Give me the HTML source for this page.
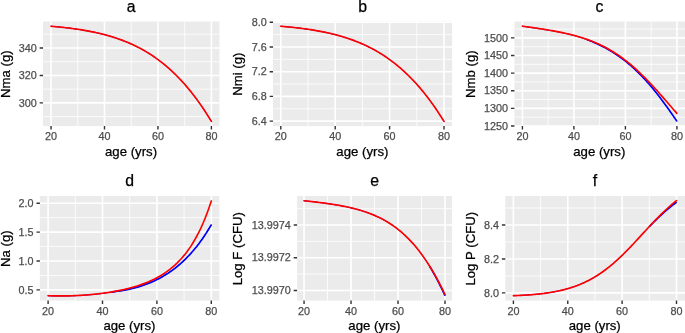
<!DOCTYPE html>
<html><head><meta charset="utf-8"><style>
html,body{margin:0;padding:0;background:#fff;}
body{width:685px;height:333px;overflow:hidden;}
svg{display:block;font-family:"Liberation Sans", sans-serif;will-change:transform;}
text{stroke:currentColor;stroke-width:0.25px;}
</style></head><body>
<svg width="685" height="333" viewBox="0 0 685 333">
<defs><clipPath id="c0"><rect x="43.05" y="21.5" width="176.35" height="104.6"/></clipPath><clipPath id="c1"><rect x="273.05" y="21.5" width="179.05" height="104.6"/></clipPath><clipPath id="c2"><rect x="514.4" y="21.5" width="170.6" height="104.6"/></clipPath><clipPath id="c3"><rect x="39.9" y="196" width="179.45" height="104.6"/></clipPath><clipPath id="c4"><rect x="297.1" y="196" width="154.95" height="104.6"/></clipPath><clipPath id="c5"><rect x="505.3" y="196" width="179.7" height="104.6"/></clipPath></defs>
<rect width="685" height="333" fill="#fff"/>
<rect x="43.05" y="21.5" width="176.35" height="104.6" fill="#EBEBEB"/>
<path d="M43.05 34.21H219.4M43.05 61.69H219.4M43.05 89.17H219.4M43.05 116.64H219.4M77.78 21.5V126.1M131.23 21.5V126.1M184.68 21.5V126.1" stroke="#FFFFFF" stroke-width="0.8" fill="none"/>
<path d="M43.05 47.95H219.4M43.05 75.43H219.4M43.05 102.9H219.4M51.05 21.5V126.1M104.5 21.5V126.1M157.95 21.5V126.1M211.4 21.5V126.1" stroke="#FFFFFF" stroke-width="1.6" fill="none"/>
<path d="M51.05 26.26 L52.39 26.37 L53.72 26.49 L55.06 26.61 L56.39 26.73 L57.73 26.86 L59.07 26.99 L60.4 27.13 L61.74 27.26 L63.08 27.41 L64.41 27.55 L65.75 27.7 L67.09 27.86 L68.42 28.02 L69.76 28.18 L71.09 28.35 L72.43 28.53 L73.77 28.71 L75.1 28.89 L76.44 29.08 L77.78 29.28 L79.11 29.48 L80.45 29.69 L81.78 29.9 L83.12 30.12 L84.46 30.35 L85.79 30.58 L87.13 30.82 L88.47 31.07 L89.8 31.32 L91.14 31.58 L92.47 31.85 L93.81 32.13 L95.15 32.41 L96.48 32.7 L97.82 33.01 L99.16 33.32 L100.49 33.63 L101.83 33.96 L103.16 34.3 L104.5 34.64 L105.84 35 L107.17 35.37 L108.51 35.74 L109.84 36.13 L111.18 36.53 L112.52 36.94 L113.85 37.36 L115.19 37.79 L116.53 38.23 L117.86 38.69 L119.2 39.16 L120.54 39.64 L121.87 40.13 L123.21 40.64 L124.54 41.16 L125.88 41.69 L127.22 42.24 L128.55 42.8 L129.89 43.38 L131.23 43.97 L132.56 44.58 L133.9 45.21 L135.23 45.85 L136.57 46.51 L137.91 47.18 L139.24 47.87 L140.58 48.58 L141.92 49.31 L143.25 50.05 L144.59 50.82 L145.92 51.6 L147.26 52.4 L148.6 53.22 L149.93 54.06 L151.27 54.93 L152.61 55.81 L153.94 56.71 L155.28 57.64 L156.61 58.59 L157.95 59.56 L159.29 60.55 L160.62 61.57 L161.96 62.61 L163.3 63.67 L164.63 64.76 L165.97 65.87 L167.3 67.01 L168.64 68.18 L169.98 69.37 L171.31 70.58 L172.65 71.83 L173.99 73.1 L175.32 74.4 L176.66 75.72 L177.99 77.08 L179.33 78.46 L180.67 79.88 L182 81.32 L183.34 82.8 L184.68 84.3 L186.01 85.84 L187.35 87.4 L188.68 89 L190.02 90.63 L191.36 92.3 L192.69 94 L194.03 95.73 L195.37 97.49 L196.7 99.29 L198.04 101.12 L199.37 102.99 L200.71 104.89 L202.05 106.83 L203.38 108.81 L204.72 110.82 L206.06 112.87 L207.39 114.96 L208.73 117.08 L210.06 119.24 L211.4 121.44" stroke="#0000FF" stroke-width="1.0" fill="none" stroke-linejoin="round" stroke-linecap="round" clip-path="url(#c0)"/>
<path d="M51.05 26.26 L52.39 26.37 L53.72 26.49 L55.06 26.61 L56.39 26.73 L57.73 26.86 L59.07 26.99 L60.4 27.13 L61.74 27.26 L63.08 27.41 L64.41 27.55 L65.75 27.7 L67.09 27.86 L68.42 28.02 L69.76 28.18 L71.09 28.35 L72.43 28.53 L73.77 28.71 L75.1 28.89 L76.44 29.08 L77.78 29.28 L79.11 29.48 L80.45 29.69 L81.78 29.9 L83.12 30.12 L84.46 30.35 L85.79 30.58 L87.13 30.82 L88.47 31.07 L89.8 31.32 L91.14 31.58 L92.47 31.85 L93.81 32.13 L95.15 32.41 L96.48 32.7 L97.82 33.01 L99.16 33.32 L100.49 33.63 L101.83 33.96 L103.16 34.3 L104.5 34.64 L105.84 35 L107.17 35.37 L108.51 35.74 L109.84 36.13 L111.18 36.53 L112.52 36.94 L113.85 37.36 L115.19 37.79 L116.53 38.23 L117.86 38.69 L119.2 39.16 L120.54 39.64 L121.87 40.13 L123.21 40.64 L124.54 41.16 L125.88 41.69 L127.22 42.24 L128.55 42.8 L129.89 43.38 L131.23 43.97 L132.56 44.58 L133.9 45.21 L135.23 45.85 L136.57 46.51 L137.91 47.18 L139.24 47.87 L140.58 48.58 L141.92 49.31 L143.25 50.05 L144.59 50.82 L145.92 51.6 L147.26 52.4 L148.6 53.22 L149.93 54.06 L151.27 54.93 L152.61 55.81 L153.94 56.71 L155.28 57.64 L156.61 58.59 L157.95 59.56 L159.29 60.55 L160.62 61.57 L161.96 62.61 L163.3 63.67 L164.63 64.76 L165.97 65.87 L167.3 67.01 L168.64 68.18 L169.98 69.37 L171.31 70.58 L172.65 71.83 L173.99 73.1 L175.32 74.4 L176.66 75.72 L177.99 77.08 L179.33 78.46 L180.67 79.88 L182 81.32 L183.34 82.8 L184.68 84.3 L186.01 85.84 L187.35 87.4 L188.68 89 L190.02 90.63 L191.36 92.3 L192.69 94 L194.03 95.73 L195.37 97.49 L196.7 99.29 L198.04 101.12 L199.37 102.99 L200.71 104.89 L202.05 106.83 L203.38 108.81 L204.72 110.82 L206.06 112.87 L207.39 114.96 L208.73 117.08 L210.06 119.24 L211.4 121.44" stroke="#FF0000" stroke-width="1.65" fill="none" stroke-linejoin="round" stroke-linecap="round" clip-path="url(#c0)"/>
<path d="M39.65 47.95H43.05M39.65 75.43H43.05M39.65 102.9H43.05M51.05 126.1V129.5M104.5 126.1V129.5M157.95 126.1V129.5M211.4 126.1V129.5" stroke="#333333" stroke-width="1.4" fill="none"/>
<g font-size="10.8" fill="#4D4D4D" color="#4D4D4D"><text x="36.75" y="51.67" text-anchor="end">340</text><text x="36.75" y="79.15" text-anchor="end">320</text><text x="36.75" y="106.62" text-anchor="end">300</text><text x="51.05" y="139.8" text-anchor="middle">20</text><text x="104.5" y="139.8" text-anchor="middle">40</text><text x="157.95" y="139.8" text-anchor="middle">60</text><text x="211.4" y="139.8" text-anchor="middle">80</text></g>
<text x="131.03" y="155.5" text-anchor="middle" font-size="13.2">age (yrs)</text>
<text transform="translate(9.5 74.2) rotate(-90)" text-anchor="middle" font-size="13.2">Nma (g)</text>
<text x="131.22" y="11.6" text-anchor="middle" font-size="15.8">a</text>
<rect x="273.05" y="21.5" width="179.05" height="104.6" fill="#EBEBEB"/>
<path d="M273.05 34.61H452.1M273.05 59.34H452.1M273.05 84.06H452.1M273.05 108.79H452.1M308 21.5V126.1M362.4 21.5V126.1M416.8 21.5V126.1" stroke="#FFFFFF" stroke-width="0.8" fill="none"/>
<path d="M273.05 22.25H452.1M273.05 46.98H452.1M273.05 71.7H452.1M273.05 96.42H452.1M273.05 121.15H452.1M280.8 21.5V126.1M335.2 21.5V126.1M389.6 21.5V126.1M444 21.5V126.1" stroke="#FFFFFF" stroke-width="1.6" fill="none"/>
<path d="M280.8 26.26 L282.16 26.37 L283.52 26.49 L284.88 26.61 L286.24 26.73 L287.6 26.86 L288.96 26.99 L290.32 27.13 L291.68 27.26 L293.04 27.41 L294.4 27.55 L295.76 27.7 L297.12 27.86 L298.48 28.02 L299.84 28.18 L301.2 28.35 L302.56 28.53 L303.92 28.71 L305.28 28.89 L306.64 29.08 L308 29.28 L309.36 29.48 L310.72 29.69 L312.08 29.9 L313.44 30.12 L314.8 30.35 L316.16 30.58 L317.52 30.82 L318.88 31.07 L320.24 31.32 L321.6 31.58 L322.96 31.85 L324.32 32.13 L325.68 32.41 L327.04 32.7 L328.4 33.01 L329.76 33.32 L331.12 33.63 L332.48 33.96 L333.84 34.3 L335.2 34.64 L336.56 35 L337.92 35.37 L339.28 35.74 L340.64 36.13 L342 36.53 L343.36 36.94 L344.72 37.36 L346.08 37.79 L347.44 38.23 L348.8 38.69 L350.16 39.16 L351.52 39.64 L352.88 40.13 L354.24 40.64 L355.6 41.16 L356.96 41.69 L358.32 42.24 L359.68 42.8 L361.04 43.38 L362.4 43.97 L363.76 44.58 L365.12 45.21 L366.48 45.85 L367.84 46.51 L369.2 47.18 L370.56 47.87 L371.92 48.58 L373.28 49.31 L374.64 50.05 L376 50.82 L377.36 51.6 L378.72 52.4 L380.08 53.22 L381.44 54.06 L382.8 54.93 L384.16 55.81 L385.52 56.71 L386.88 57.64 L388.24 58.59 L389.6 59.56 L390.96 60.55 L392.32 61.57 L393.68 62.61 L395.04 63.67 L396.4 64.76 L397.76 65.87 L399.12 67.01 L400.48 68.18 L401.84 69.37 L403.2 70.58 L404.56 71.83 L405.92 73.1 L407.28 74.4 L408.64 75.72 L410 77.08 L411.36 78.46 L412.72 79.88 L414.08 81.32 L415.44 82.8 L416.8 84.3 L418.16 85.84 L419.52 87.4 L420.88 89 L422.24 90.63 L423.6 92.3 L424.96 94 L426.32 95.73 L427.68 97.49 L429.04 99.29 L430.4 101.12 L431.76 102.99 L433.12 104.89 L434.48 106.83 L435.84 108.81 L437.2 110.82 L438.56 112.87 L439.92 114.96 L441.28 117.08 L442.64 119.24 L444 121.44" stroke="#0000FF" stroke-width="1.0" fill="none" stroke-linejoin="round" stroke-linecap="round" clip-path="url(#c1)"/>
<path d="M280.8 26.26 L282.16 26.37 L283.52 26.49 L284.88 26.61 L286.24 26.73 L287.6 26.86 L288.96 26.99 L290.32 27.13 L291.68 27.26 L293.04 27.41 L294.4 27.55 L295.76 27.7 L297.12 27.86 L298.48 28.02 L299.84 28.18 L301.2 28.35 L302.56 28.53 L303.92 28.71 L305.28 28.89 L306.64 29.08 L308 29.28 L309.36 29.48 L310.72 29.69 L312.08 29.9 L313.44 30.12 L314.8 30.35 L316.16 30.58 L317.52 30.82 L318.88 31.07 L320.24 31.32 L321.6 31.58 L322.96 31.85 L324.32 32.13 L325.68 32.41 L327.04 32.7 L328.4 33.01 L329.76 33.32 L331.12 33.63 L332.48 33.96 L333.84 34.3 L335.2 34.64 L336.56 35 L337.92 35.37 L339.28 35.74 L340.64 36.13 L342 36.53 L343.36 36.94 L344.72 37.36 L346.08 37.79 L347.44 38.23 L348.8 38.69 L350.16 39.16 L351.52 39.64 L352.88 40.13 L354.24 40.64 L355.6 41.16 L356.96 41.69 L358.32 42.24 L359.68 42.8 L361.04 43.38 L362.4 43.97 L363.76 44.58 L365.12 45.21 L366.48 45.85 L367.84 46.51 L369.2 47.18 L370.56 47.87 L371.92 48.58 L373.28 49.31 L374.64 50.05 L376 50.82 L377.36 51.6 L378.72 52.4 L380.08 53.22 L381.44 54.06 L382.8 54.93 L384.16 55.81 L385.52 56.71 L386.88 57.64 L388.24 58.59 L389.6 59.56 L390.96 60.55 L392.32 61.57 L393.68 62.61 L395.04 63.67 L396.4 64.76 L397.76 65.87 L399.12 67.01 L400.48 68.18 L401.84 69.37 L403.2 70.58 L404.56 71.83 L405.92 73.1 L407.28 74.4 L408.64 75.72 L410 77.08 L411.36 78.46 L412.72 79.88 L414.08 81.32 L415.44 82.8 L416.8 84.3 L418.16 85.84 L419.52 87.4 L420.88 89 L422.24 90.63 L423.6 92.3 L424.96 94 L426.32 95.73 L427.68 97.49 L429.04 99.29 L430.4 101.12 L431.76 102.99 L433.12 104.89 L434.48 106.83 L435.84 108.81 L437.2 110.82 L438.56 112.87 L439.92 114.96 L441.28 117.08 L442.64 119.24 L444 121.44" stroke="#FF0000" stroke-width="1.65" fill="none" stroke-linejoin="round" stroke-linecap="round" clip-path="url(#c1)"/>
<path d="M269.65 22.25H273.05M269.65 46.98H273.05M269.65 71.7H273.05M269.65 96.42H273.05M269.65 121.15H273.05M280.8 126.1V129.5M335.2 126.1V129.5M389.6 126.1V129.5M444 126.1V129.5" stroke="#333333" stroke-width="1.4" fill="none"/>
<g font-size="10.8" fill="#4D4D4D" color="#4D4D4D"><text x="266.75" y="25.97" text-anchor="end">8.0</text><text x="266.75" y="50.69" text-anchor="end">7.6</text><text x="266.75" y="75.42" text-anchor="end">7.2</text><text x="266.75" y="100.14" text-anchor="end">6.8</text><text x="266.75" y="124.87" text-anchor="end">6.4</text><text x="280.8" y="139.8" text-anchor="middle">20</text><text x="335.2" y="139.8" text-anchor="middle">40</text><text x="389.6" y="139.8" text-anchor="middle">60</text><text x="444" y="139.8" text-anchor="middle">80</text></g>
<text x="362.38" y="155.5" text-anchor="middle" font-size="13.2">age (yrs)</text>
<text transform="translate(242.05 74.2) rotate(-90)" text-anchor="middle" font-size="13.2">Nmi (g)</text>
<text x="362.58" y="11.6" text-anchor="middle" font-size="15.8">b</text>
<rect x="514.4" y="21.5" width="170.6" height="104.6" fill="#EBEBEB"/>
<path d="M514.4 29.09H685M514.4 46.7H685M514.4 64.31H685M514.4 81.93H685M514.4 99.53H685M514.4 117.15H685M548.15 21.5V126.1M599.65 21.5V126.1M651.15 21.5V126.1" stroke="#FFFFFF" stroke-width="0.8" fill="none"/>
<path d="M514.4 37.9H685M514.4 55.51H685M514.4 73.12H685M514.4 90.73H685M514.4 108.34H685M514.4 125.95H685M522.4 21.5V126.1M573.9 21.5V126.1M625.4 21.5V126.1M676.9 21.5V126.1" stroke="#FFFFFF" stroke-width="1.6" fill="none"/>
<path d="M522.4 26.32 L523.69 26.49 L524.98 26.67 L526.26 26.84 L527.55 27.01 L528.84 27.19 L530.12 27.37 L531.41 27.55 L532.7 27.73 L533.99 27.92 L535.27 28.1 L536.56 28.29 L537.85 28.48 L539.14 28.68 L540.42 28.87 L541.71 29.07 L543 29.27 L544.29 29.48 L545.57 29.69 L546.86 29.9 L548.15 30.11 L549.44 30.33 L550.73 30.56 L552.01 30.78 L553.3 31.01 L554.59 31.25 L555.88 31.49 L557.16 31.74 L558.45 31.99 L559.74 32.25 L561.02 32.51 L562.31 32.78 L563.6 33.05 L564.89 33.34 L566.17 33.62 L567.46 33.92 L568.75 34.22 L570.04 34.54 L571.32 34.86 L572.61 35.18 L573.9 35.52 L575.19 35.87 L576.48 36.22 L577.76 36.59 L579.05 36.96 L580.34 37.35 L581.62 37.76 L582.91 38.19 L584.2 38.63 L585.49 39.08 L586.77 39.55 L588.06 40.03 L589.35 40.52 L590.64 41.03 L591.92 41.56 L593.21 42.09 L594.5 42.65 L595.79 43.21 L597.08 43.8 L598.36 44.4 L599.65 45.01 L600.94 45.65 L602.23 46.29 L603.51 46.96 L604.8 47.64 L606.09 48.34 L607.38 49.06 L608.66 49.79 L609.95 50.54 L611.24 51.31 L612.52 52.1 L613.81 52.91 L615.1 53.74 L616.39 54.59 L617.67 55.46 L618.96 56.35 L620.25 57.27 L621.54 58.21 L622.83 59.17 L624.11 60.15 L625.4 61.16 L626.69 62.2 L627.98 63.25 L629.26 64.33 L630.55 65.44 L631.84 66.57 L633.12 67.72 L634.41 68.9 L635.7 70.11 L636.99 71.34 L638.27 72.6 L639.56 73.88 L640.85 75.18 L642.14 76.52 L643.42 77.87 L644.71 79.26 L646 80.67 L647.29 82.1 L648.58 83.56 L649.86 85.04 L651.15 86.55 L652.44 88.08 L653.73 89.64 L655.01 91.22 L656.3 92.83 L657.59 94.45 L658.88 96.1 L660.16 97.78 L661.45 99.47 L662.74 101.19 L664.02 102.93 L665.31 104.68 L666.6 106.46 L667.89 108.26 L669.17 110.07 L670.46 111.9 L671.75 113.75 L673.04 115.61 L674.33 117.49 L675.61 119.39 L676.9 121.29" stroke="#0000FF" stroke-width="1.0" fill="none" stroke-linejoin="round" stroke-linecap="round" clip-path="url(#c2)"/>
<path d="M586.77 39.55 L588.06 40.03 L589.35 40.52 L590.64 41.03 L591.92 41.56 L593.21 42.09 L594.5 42.65 L595.79 43.21 L597.08 43.8 L598.36 44.4 L599.65 45.01 L600.94 45.65 L602.23 46.29 L603.51 46.96 L604.8 47.64 L606.09 48.34 L607.38 49.06 L608.66 49.79 L609.95 50.54 L611.24 51.31 L612.52 52.1 L613.81 52.91 L615.1 53.74 L616.39 54.59 L617.67 55.46 L618.96 56.35 L620.25 57.27 L621.54 58.21 L622.83 59.17 L624.11 60.15 L625.4 61.16 L626.69 62.2 L627.98 63.25 L629.26 64.33 L630.55 65.44 L631.84 66.57 L633.12 67.72 L634.41 68.9 L635.7 70.11 L636.99 71.34 L638.27 72.6 L639.56 73.88 L640.85 75.18 L642.14 76.52 L643.42 77.87 L644.71 79.26 L646 80.67 L647.29 82.1 L648.58 83.56 L649.86 85.04 L651.15 86.55 L652.44 88.08 L653.73 89.64 L655.01 91.22 L656.3 92.83 L657.59 94.45 L658.88 96.1 L660.16 97.78 L661.45 99.47 L662.74 101.19 L664.02 102.93 L665.31 104.68 L666.6 106.46 L667.89 108.26 L669.17 110.07 L670.46 111.9 L671.75 113.75 L673.04 115.61 L674.33 117.49 L675.61 119.39 L676.9 121.29" stroke="#0000FF" stroke-width="1.65" fill="none" stroke-linejoin="round" stroke-linecap="butt" clip-path="url(#c2)"/>
<path d="M522.4 26.2 L523.69 26.37 L524.98 26.55 L526.26 26.72 L527.55 26.89 L528.84 27.07 L530.12 27.25 L531.41 27.43 L532.7 27.61 L533.99 27.8 L535.27 27.98 L536.56 28.17 L537.85 28.36 L539.14 28.56 L540.42 28.75 L541.71 28.95 L543 29.15 L544.29 29.36 L545.57 29.57 L546.86 29.78 L548.15 29.99 L549.44 30.21 L550.73 30.44 L552.01 30.66 L553.3 30.89 L554.59 31.13 L555.88 31.37 L557.16 31.62 L558.45 31.87 L559.74 32.13 L561.02 32.39 L562.31 32.66 L563.6 32.93 L564.89 33.22 L566.17 33.5 L567.46 33.8 L568.75 34.1 L570.04 34.42 L571.32 34.74 L572.61 35.06 L573.9 35.4 L575.19 35.75 L576.48 36.1 L577.76 36.47 L579.05 36.84 L580.34 37.23 L581.62 37.63 L582.91 38.04 L584.2 38.46 L585.49 38.89 L586.77 39.34 L588.06 39.8 L589.35 40.27 L590.64 40.75 L591.92 41.25 L593.21 41.77 L594.5 42.29 L595.79 42.84 L597.08 43.4 L598.36 43.97 L599.65 44.57 L600.94 45.17 L602.23 45.8 L603.51 46.44 L604.8 47.1 L606.09 47.78 L607.38 48.48 L608.66 49.2 L609.95 49.93 L611.24 50.69 L612.52 51.47 L613.81 52.26 L615.1 53.08 L616.39 53.91 L617.67 54.77 L618.96 55.65 L620.25 56.54 L621.54 57.46 L622.83 58.4 L624.11 59.37 L625.4 60.35 L626.69 61.35 L627.98 62.38 L629.26 63.43 L630.55 64.49 L631.84 65.58 L633.12 66.7 L634.41 67.83 L635.7 68.98 L636.99 70.15 L638.27 71.34 L639.56 72.56 L640.85 73.79 L642.14 75.04 L643.42 76.31 L644.71 77.6 L646 78.9 L647.29 80.22 L648.58 81.56 L649.86 82.91 L651.15 84.28 L652.44 85.66 L653.73 87.06 L655.01 88.47 L656.3 89.89 L657.59 91.32 L658.88 92.76 L660.16 94.21 L661.45 95.67 L662.74 97.13 L664.02 98.61 L665.31 100.08 L666.6 101.56 L667.89 103.04 L669.17 104.52 L670.46 106 L671.75 107.48 L673.04 108.96 L674.33 110.43 L675.61 111.89 L676.9 113.35" stroke="#FF0000" stroke-width="1.65" fill="none" stroke-linejoin="round" stroke-linecap="round" clip-path="url(#c2)"/>
<path d="M511 37.9H514.4M511 55.51H514.4M511 73.12H514.4M511 90.73H514.4M511 108.34H514.4M511 125.95H514.4M522.4 126.1V129.5M573.9 126.1V129.5M625.4 126.1V129.5M676.9 126.1V129.5" stroke="#333333" stroke-width="1.4" fill="none"/>
<g font-size="10.8" fill="#4D4D4D" color="#4D4D4D"><text x="508.1" y="41.62" text-anchor="end">1500</text><text x="508.1" y="59.23" text-anchor="end">1450</text><text x="508.1" y="76.84" text-anchor="end">1400</text><text x="508.1" y="94.45" text-anchor="end">1350</text><text x="508.1" y="112.06" text-anchor="end">1300</text><text x="508.1" y="129.67" text-anchor="end">1250</text><text x="522.4" y="139.8" text-anchor="middle">20</text><text x="573.9" y="139.8" text-anchor="middle">40</text><text x="625.4" y="139.8" text-anchor="middle">60</text><text x="676.9" y="139.8" text-anchor="middle">80</text></g>
<text x="599.3" y="155.5" text-anchor="middle" font-size="13.2">age (yrs)</text>
<text transform="translate(474.6 74.2) rotate(-90)" text-anchor="middle" font-size="13.2">Nmb (g)</text>
<text x="599.5" y="11.6" text-anchor="middle" font-size="15.8">c</text>
<rect x="39.9" y="196" width="179.45" height="104.6" fill="#EBEBEB"/>
<path d="M39.9 217.65H219.35M39.9 246.55H219.35M39.9 275.45H219.35M75.3 196V300.6M129.7 196V300.6M184.1 196V300.6" stroke="#FFFFFF" stroke-width="0.8" fill="none"/>
<path d="M39.9 203.2H219.35M39.9 232.1H219.35M39.9 261H219.35M39.9 289.9H219.35M48.1 196V300.6M102.5 196V300.6M156.9 196V300.6M211.3 196V300.6" stroke="#FFFFFF" stroke-width="1.6" fill="none"/>
<path d="M48.1 295.8 L49.46 295.86 L50.82 295.9 L52.18 295.95 L53.54 295.98 L54.9 296.01 L56.26 296.03 L57.62 296.05 L58.98 296.06 L60.34 296.06 L61.7 296.06 L63.06 296.05 L64.42 296.04 L65.78 296.02 L67.14 295.99 L68.5 295.96 L69.86 295.93 L71.22 295.89 L72.58 295.84 L73.94 295.79 L75.3 295.73 L76.66 295.67 L78.02 295.6 L79.38 295.53 L80.74 295.45 L82.1 295.36 L83.46 295.27 L84.82 295.18 L86.18 295.08 L87.54 294.97 L88.9 294.86 L90.26 294.74 L91.62 294.62 L92.98 294.49 L94.34 294.36 L95.7 294.21 L97.06 294.07 L98.42 293.91 L99.78 293.75 L101.14 293.59 L102.5 293.42 L103.86 293.24 L105.22 293.05 L106.58 292.86 L107.94 292.65 L109.3 292.45 L110.66 292.26 L112.02 292.07 L113.38 291.88 L114.74 291.68 L116.1 291.48 L117.46 291.28 L118.82 291.06 L120.18 290.85 L121.54 290.62 L122.9 290.39 L124.26 290.14 L125.62 289.89 L126.98 289.63 L128.34 289.36 L129.7 289.07 L131.06 288.78 L132.42 288.46 L133.78 288.14 L135.14 287.79 L136.5 287.43 L137.86 287.05 L139.22 286.65 L140.58 286.23 L141.94 285.79 L143.3 285.33 L144.66 284.84 L146.02 284.33 L147.38 283.81 L148.74 283.27 L150.1 282.71 L151.46 282.13 L152.82 281.53 L154.18 280.9 L155.54 280.26 L156.9 279.59 L158.26 278.9 L159.62 278.18 L160.98 277.45 L162.34 276.68 L163.7 275.89 L165.06 275.07 L166.42 274.23 L167.78 273.36 L169.14 272.45 L170.5 271.52 L171.86 270.56 L173.22 269.56 L174.58 268.54 L175.94 267.48 L177.3 266.38 L178.66 265.25 L180.02 264.09 L181.38 262.89 L182.74 261.64 L184.1 260.36 L185.46 259.04 L186.82 257.68 L188.18 256.28 L189.54 254.83 L190.9 253.34 L192.26 251.8 L193.62 250.22 L194.98 248.58 L196.34 246.9 L197.7 245.17 L199.06 243.38 L200.42 241.54 L201.78 239.65 L203.14 237.7 L204.5 235.69 L205.86 233.63 L207.22 231.5 L208.58 229.31 L209.94 227.06 L211.3 224.74" stroke="#0000FF" stroke-width="1.0" fill="none" stroke-linejoin="round" stroke-linecap="round" clip-path="url(#c3)"/>
<path d="M112.02 292.07 L113.38 291.88 L114.74 291.68 L116.1 291.48 L117.46 291.28 L118.82 291.06 L120.18 290.85 L121.54 290.62 L122.9 290.39 L124.26 290.14 L125.62 289.89 L126.98 289.63 L128.34 289.36 L129.7 289.07 L131.06 288.78 L132.42 288.46 L133.78 288.14 L135.14 287.79 L136.5 287.43 L137.86 287.05 L139.22 286.65 L140.58 286.23 L141.94 285.79 L143.3 285.33 L144.66 284.84 L146.02 284.33 L147.38 283.81 L148.74 283.27 L150.1 282.71 L151.46 282.13 L152.82 281.53 L154.18 280.9 L155.54 280.26 L156.9 279.59 L158.26 278.9 L159.62 278.18 L160.98 277.45 L162.34 276.68 L163.7 275.89 L165.06 275.07 L166.42 274.23 L167.78 273.36 L169.14 272.45 L170.5 271.52 L171.86 270.56 L173.22 269.56 L174.58 268.54 L175.94 267.48 L177.3 266.38 L178.66 265.25 L180.02 264.09 L181.38 262.89 L182.74 261.64 L184.1 260.36 L185.46 259.04 L186.82 257.68 L188.18 256.28 L189.54 254.83 L190.9 253.34 L192.26 251.8 L193.62 250.22 L194.98 248.58 L196.34 246.9 L197.7 245.17 L199.06 243.38 L200.42 241.54 L201.78 239.65 L203.14 237.7 L204.5 235.69 L205.86 233.63 L207.22 231.5 L208.58 229.31 L209.94 227.06 L211.3 224.74" stroke="#0000FF" stroke-width="1.65" fill="none" stroke-linejoin="round" stroke-linecap="butt" clip-path="url(#c3)"/>
<path d="M48.1 295.68 L49.46 295.74 L50.82 295.78 L52.18 295.83 L53.54 295.86 L54.9 295.89 L56.26 295.91 L57.62 295.93 L58.98 295.94 L60.34 295.94 L61.7 295.94 L63.06 295.93 L64.42 295.92 L65.78 295.9 L67.14 295.87 L68.5 295.84 L69.86 295.81 L71.22 295.77 L72.58 295.72 L73.94 295.67 L75.3 295.61 L76.66 295.55 L78.02 295.48 L79.38 295.41 L80.74 295.33 L82.1 295.24 L83.46 295.15 L84.82 295.06 L86.18 294.96 L87.54 294.85 L88.9 294.74 L90.26 294.62 L91.62 294.5 L92.98 294.37 L94.34 294.24 L95.7 294.09 L97.06 293.95 L98.42 293.79 L99.78 293.63 L101.14 293.47 L102.5 293.3 L103.86 293.12 L105.22 292.93 L106.58 292.74 L107.94 292.53 L109.3 292.33 L110.66 292.11 L112.02 291.89 L113.38 291.65 L114.74 291.41 L116.1 291.17 L117.46 290.91 L118.82 290.64 L120.18 290.37 L121.54 290.08 L122.9 289.79 L124.26 289.48 L125.62 289.16 L126.98 288.84 L128.34 288.5 L129.7 288.15 L131.06 287.78 L132.42 287.41 L133.78 287.02 L135.14 286.61 L136.5 286.2 L137.86 285.77 L139.22 285.32 L140.58 284.86 L141.94 284.38 L143.3 283.88 L144.66 283.36 L146.02 282.83 L147.38 282.27 L148.74 281.7 L150.1 281.1 L151.46 280.48 L152.82 279.84 L154.18 279.18 L155.54 278.49 L156.9 277.77 L158.26 277.02 L159.62 276.25 L160.98 275.44 L162.34 274.61 L163.7 273.74 L165.06 272.83 L166.42 271.89 L167.78 270.91 L169.14 269.89 L170.5 268.83 L171.86 267.72 L173.22 266.57 L174.58 265.37 L175.94 264.11 L177.3 262.81 L178.66 261.44 L180.02 260.02 L181.38 258.54 L182.74 256.99 L184.1 255.37 L185.46 253.68 L186.82 251.91 L188.18 250.06 L189.54 248.13 L190.9 246.11 L192.26 243.99 L193.62 241.77 L194.98 239.45 L196.34 237.02 L197.7 234.48 L199.06 231.81 L200.42 229.01 L201.78 226.07 L203.14 222.99 L204.5 219.75 L205.86 216.35 L207.22 212.78 L208.58 209.03 L209.94 205.09 L211.3 200.95" stroke="#FF0000" stroke-width="1.65" fill="none" stroke-linejoin="round" stroke-linecap="round" clip-path="url(#c3)"/>
<path d="M36.5 203.2H39.9M36.5 232.1H39.9M36.5 261H39.9M36.5 289.9H39.9M48.1 300.6V304M102.5 300.6V304M156.9 300.6V304M211.3 300.6V304" stroke="#333333" stroke-width="1.4" fill="none"/>
<g font-size="10.8" fill="#4D4D4D" color="#4D4D4D"><text x="33.6" y="206.92" text-anchor="end">2.0</text><text x="33.6" y="235.82" text-anchor="end">1.5</text><text x="33.6" y="264.72" text-anchor="end">1.0</text><text x="33.6" y="293.62" text-anchor="end">0.5</text><text x="48.1" y="314.5" text-anchor="middle">20</text><text x="102.5" y="314.5" text-anchor="middle">40</text><text x="156.9" y="314.5" text-anchor="middle">60</text><text x="211.3" y="314.5" text-anchor="middle">80</text></g>
<text x="129.43" y="329.7" text-anchor="middle" font-size="13.2">age (yrs)</text>
<text transform="translate(9.5 248.7) rotate(-90)" text-anchor="middle" font-size="13.2">Na (g)</text>
<text x="129.62" y="186.4" text-anchor="middle" font-size="15.8">d</text>
<rect x="297.1" y="196" width="154.95" height="104.6" fill="#EBEBEB"/>
<path d="M297.1 208.64H452.05M297.1 241.36H452.05M297.1 274.09H452.05M327.54 196V300.6M374.52 196V300.6M421.51 196V300.6" stroke="#FFFFFF" stroke-width="0.8" fill="none"/>
<path d="M297.1 225H452.05M297.1 257.72H452.05M297.1 290.45H452.05M304.05 196V300.6M351.03 196V300.6M398.02 196V300.6M445 196V300.6" stroke="#FFFFFF" stroke-width="1.6" fill="none"/>
<path d="M304.05 200.76 L305.22 200.88 L306.4 201.01 L307.57 201.13 L308.75 201.26 L309.92 201.39 L311.1 201.52 L312.27 201.65 L313.45 201.78 L314.62 201.92 L315.8 202.06 L316.97 202.19 L318.14 202.34 L319.32 202.48 L320.49 202.63 L321.67 202.78 L322.84 202.93 L324.02 203.08 L325.19 203.24 L326.37 203.4 L327.54 203.57 L328.72 203.74 L329.89 203.91 L331.07 204.08 L332.24 204.26 L333.41 204.45 L334.59 204.63 L335.76 204.83 L336.94 205.02 L338.11 205.23 L339.29 205.43 L340.46 205.65 L341.64 205.86 L342.81 206.09 L343.99 206.32 L345.16 206.55 L346.34 206.79 L347.51 207.04 L348.68 207.3 L349.86 207.56 L351.03 207.83 L352.21 208.11 L353.38 208.4 L354.56 208.7 L355.73 209 L356.91 209.31 L358.08 209.64 L359.26 209.97 L360.43 210.31 L361.6 210.67 L362.78 211.03 L363.95 211.41 L365.13 211.8 L366.3 212.2 L367.48 212.61 L368.65 213.03 L369.83 213.47 L371 213.93 L372.18 214.39 L373.35 214.88 L374.52 215.37 L375.7 215.89 L376.87 216.42 L378.05 216.96 L379.22 217.52 L380.4 218.11 L381.57 218.7 L382.75 219.32 L383.92 219.96 L385.1 220.62 L386.27 221.3 L387.45 221.99 L388.62 222.72 L389.79 223.46 L390.97 224.22 L392.14 225.01 L393.32 225.83 L394.49 226.66 L395.67 227.53 L396.84 228.41 L398.02 229.33 L399.19 230.27 L400.37 231.24 L401.54 232.24 L402.72 233.26 L403.89 234.32 L405.06 235.41 L406.24 236.53 L407.41 237.67 L408.59 238.86 L409.76 240.07 L410.94 241.32 L412.11 242.6 L413.29 243.91 L414.46 245.26 L415.64 246.65 L416.81 248.08 L417.98 249.54 L419.16 251.04 L420.33 252.58 L421.51 254.17 L422.68 255.79 L423.86 257.46 L425.03 259.17 L426.21 260.93 L427.38 262.73 L428.56 264.58 L429.73 266.48 L430.91 268.43 L432.08 270.43 L433.25 272.47 L434.43 274.57 L435.6 276.72 L436.78 278.91 L437.95 281.16 L439.13 283.46 L440.3 285.8 L441.48 288.19 L442.65 290.64 L443.83 293.14 L445 295.69" stroke="#0000FF" stroke-width="1.0" fill="none" stroke-linejoin="round" stroke-linecap="round" clip-path="url(#c4)"/>
<path d="M429.73 266.48 L430.91 268.43 L432.08 270.43 L433.25 272.47 L434.43 274.57 L435.6 276.72 L436.78 278.91 L437.95 281.16 L439.13 283.46 L440.3 285.8 L441.48 288.19 L442.65 290.64 L443.83 293.14 L445 295.69" stroke="#0000FF" stroke-width="1.65" fill="none" stroke-linejoin="round" stroke-linecap="butt" clip-path="url(#c4)"/>
<path d="M304.05 200.76 L305.22 200.88 L306.4 201.01 L307.57 201.13 L308.75 201.26 L309.92 201.39 L311.1 201.52 L312.27 201.65 L313.45 201.78 L314.62 201.92 L315.8 202.06 L316.97 202.19 L318.14 202.34 L319.32 202.48 L320.49 202.63 L321.67 202.78 L322.84 202.93 L324.02 203.08 L325.19 203.24 L326.37 203.4 L327.54 203.57 L328.72 203.74 L329.89 203.91 L331.07 204.08 L332.24 204.26 L333.41 204.45 L334.59 204.63 L335.76 204.83 L336.94 205.02 L338.11 205.23 L339.29 205.43 L340.46 205.65 L341.64 205.86 L342.81 206.09 L343.99 206.32 L345.16 206.55 L346.34 206.79 L347.51 207.04 L348.68 207.3 L349.86 207.56 L351.03 207.83 L352.21 208.11 L353.38 208.4 L354.56 208.7 L355.73 209 L356.91 209.31 L358.08 209.64 L359.26 209.97 L360.43 210.31 L361.6 210.67 L362.78 211.03 L363.95 211.41 L365.13 211.8 L366.3 212.2 L367.48 212.61 L368.65 213.03 L369.83 213.47 L371 213.93 L372.18 214.39 L373.35 214.88 L374.52 215.37 L375.7 215.89 L376.87 216.42 L378.05 216.96 L379.22 217.52 L380.4 218.11 L381.57 218.7 L382.75 219.32 L383.92 219.96 L385.1 220.62 L386.27 221.3 L387.45 221.99 L388.62 222.72 L389.79 223.46 L390.97 224.22 L392.14 225.01 L393.32 225.83 L394.49 226.66 L395.67 227.53 L396.84 228.41 L398.02 229.33 L399.19 230.27 L400.37 231.24 L401.54 232.24 L402.72 233.26 L403.89 234.32 L405.06 235.41 L406.24 236.53 L407.41 237.67 L408.59 238.86 L409.76 240.07 L410.94 241.32 L412.11 242.6 L413.29 243.91 L414.46 245.26 L415.64 246.65 L416.81 248.07 L417.98 249.53 L419.16 251.03 L420.33 252.57 L421.51 254.14 L422.68 255.76 L423.86 257.41 L425.03 259.1 L426.21 260.84 L427.38 262.62 L428.56 264.43 L429.73 266.29 L430.91 268.2 L432.08 270.14 L433.25 272.13 L434.43 274.17 L435.6 276.25 L436.78 278.37 L437.95 280.54 L439.13 282.75 L440.3 285.01 L441.48 287.31 L442.65 289.66 L443.83 292.06 L445 294.5" stroke="#FF0000" stroke-width="1.65" fill="none" stroke-linejoin="round" stroke-linecap="round" clip-path="url(#c4)"/>
<path d="M293.7 225H297.1M293.7 257.72H297.1M293.7 290.45H297.1M304.05 300.6V304M351.03 300.6V304M398.02 300.6V304M445 300.6V304" stroke="#333333" stroke-width="1.4" fill="none"/>
<g font-size="10.8" fill="#4D4D4D" color="#4D4D4D"><text x="290.8" y="228.72" text-anchor="end">13.9974</text><text x="290.8" y="261.44" text-anchor="end">13.9972</text><text x="290.8" y="294.17" text-anchor="end">13.9970</text><text x="304.05" y="314.5" text-anchor="middle">20</text><text x="351.03" y="314.5" text-anchor="middle">40</text><text x="398.02" y="314.5" text-anchor="middle">60</text><text x="445" y="314.5" text-anchor="middle">80</text></g>
<text x="374.38" y="329.7" text-anchor="middle" font-size="13.2">age (yrs)</text>
<text transform="translate(242.05 248.7) rotate(-90)" text-anchor="middle" font-size="13.2">Log F (CFU)</text>
<text x="374.58" y="186.4" text-anchor="middle" font-size="15.8">e</text>
<rect x="505.3" y="196" width="179.7" height="104.6" fill="#EBEBEB"/>
<path d="M505.3 208.03H685M505.3 241.97H685M505.3 275.92H685M540.58 196V300.6M594.95 196V300.6M649.32 196V300.6" stroke="#FFFFFF" stroke-width="0.8" fill="none"/>
<path d="M505.3 225H685M505.3 258.95H685M505.3 292.9H685M513.4 196V300.6M567.77 196V300.6M622.13 196V300.6M676.5 196V300.6" stroke="#FFFFFF" stroke-width="1.6" fill="none"/>
<path d="M513.4 295.68 L514.76 295.64 L516.12 295.58 L517.48 295.53 L518.84 295.47 L520.2 295.4 L521.55 295.34 L522.91 295.26 L524.27 295.19 L525.63 295.1 L526.99 295.02 L528.35 294.92 L529.71 294.83 L531.07 294.72 L532.43 294.61 L533.79 294.5 L535.15 294.38 L536.51 294.25 L537.87 294.11 L539.22 293.97 L540.58 293.82 L541.94 293.66 L543.3 293.49 L544.66 293.32 L546.02 293.13 L547.38 292.94 L548.74 292.74 L550.1 292.52 L551.46 292.3 L552.82 292.06 L554.17 291.82 L555.53 291.56 L556.89 291.29 L558.25 291.01 L559.61 290.72 L560.97 290.41 L562.33 290.09 L563.69 289.75 L565.05 289.4 L566.41 289.03 L567.77 288.65 L569.13 288.25 L570.49 287.84 L571.84 287.4 L573.2 286.95 L574.56 286.48 L575.92 285.99 L577.28 285.49 L578.64 284.96 L580 284.41 L581.36 283.84 L582.72 283.25 L584.08 282.64 L585.44 282 L586.79 281.34 L588.15 280.66 L589.51 279.95 L590.87 279.22 L592.23 278.47 L593.59 277.69 L594.95 276.88 L596.31 276.05 L597.67 275.19 L599.03 274.31 L600.39 273.4 L601.75 272.46 L603.11 271.5 L604.46 270.51 L605.82 269.49 L607.18 268.45 L608.54 267.38 L609.9 266.28 L611.26 265.16 L612.62 264.01 L613.98 262.84 L615.34 261.64 L616.7 260.42 L618.06 259.18 L619.41 257.91 L620.77 256.62 L622.13 255.31 L623.49 253.98 L624.85 252.63 L626.21 251.26 L627.57 249.88 L628.93 248.48 L630.29 247.06 L631.65 245.64 L633.01 244.2 L634.37 242.75 L635.73 241.29 L637.08 239.83 L638.44 238.36 L639.8 236.89 L641.16 235.42 L642.52 233.96 L643.88 232.49 L645.24 231.03 L646.6 229.58 L647.96 228.14 L649.32 226.71 L650.68 225.3 L652.03 223.9 L653.39 222.51 L654.75 221.15 L656.11 219.8 L657.47 218.47 L658.83 217.17 L660.19 215.89 L661.55 214.63 L662.91 213.4 L664.27 212.19 L665.63 211 L666.99 209.83 L668.35 208.69 L669.7 207.57 L671.06 206.46 L672.42 205.38 L673.78 204.33 L675.14 203.3 L676.5 202.3" stroke="#0000FF" stroke-width="1.0" fill="none" stroke-linejoin="round" stroke-linecap="round" clip-path="url(#c5)"/>
<path d="M649.32 226.71 L650.68 225.3 L652.03 223.9 L653.39 222.51 L654.75 221.15 L656.11 219.8 L657.47 218.47 L658.83 217.17 L660.19 215.89 L661.55 214.63 L662.91 213.4 L664.27 212.19 L665.63 211 L666.99 209.83 L668.35 208.69 L669.7 207.57 L671.06 206.46 L672.42 205.38 L673.78 204.33 L675.14 203.3 L676.5 202.3" stroke="#0000FF" stroke-width="1.65" fill="none" stroke-linejoin="round" stroke-linecap="butt" clip-path="url(#c5)"/>
<path d="M513.4 295.68 L514.76 295.64 L516.12 295.58 L517.48 295.53 L518.84 295.47 L520.2 295.4 L521.55 295.34 L522.91 295.26 L524.27 295.19 L525.63 295.1 L526.99 295.02 L528.35 294.92 L529.71 294.83 L531.07 294.72 L532.43 294.61 L533.79 294.5 L535.15 294.38 L536.51 294.25 L537.87 294.11 L539.22 293.97 L540.58 293.82 L541.94 293.66 L543.3 293.49 L544.66 293.32 L546.02 293.13 L547.38 292.94 L548.74 292.74 L550.1 292.52 L551.46 292.3 L552.82 292.06 L554.17 291.82 L555.53 291.56 L556.89 291.29 L558.25 291.01 L559.61 290.72 L560.97 290.41 L562.33 290.09 L563.69 289.75 L565.05 289.4 L566.41 289.03 L567.77 288.65 L569.13 288.25 L570.49 287.84 L571.84 287.4 L573.2 286.95 L574.56 286.48 L575.92 285.99 L577.28 285.49 L578.64 284.96 L580 284.41 L581.36 283.84 L582.72 283.25 L584.08 282.64 L585.44 282 L586.79 281.34 L588.15 280.66 L589.51 279.95 L590.87 279.22 L592.23 278.47 L593.59 277.69 L594.95 276.88 L596.31 276.05 L597.67 275.19 L599.03 274.31 L600.39 273.4 L601.75 272.46 L603.11 271.5 L604.46 270.51 L605.82 269.49 L607.18 268.45 L608.54 267.38 L609.9 266.28 L611.26 265.16 L612.62 264.01 L613.98 262.84 L615.34 261.64 L616.7 260.42 L618.06 259.18 L619.41 257.91 L620.77 256.62 L622.13 255.31 L623.49 253.98 L624.85 252.63 L626.21 251.26 L627.57 249.88 L628.93 248.48 L630.29 247.06 L631.65 245.64 L633.01 244.2 L634.37 242.75 L635.73 241.29 L637.08 239.82 L638.44 238.35 L639.8 236.87 L641.16 235.39 L642.52 233.91 L643.88 232.43 L645.24 230.95 L646.6 229.47 L647.96 228 L649.32 226.54 L650.68 225.08 L652.03 223.64 L653.39 222.2 L654.75 220.78 L656.11 219.37 L657.47 217.98 L658.83 216.6 L660.19 215.24 L661.55 213.9 L662.91 212.58 L664.27 211.28 L665.63 210 L666.99 208.74 L668.35 207.5 L669.7 206.29 L671.06 205.11 L672.42 203.95 L673.78 202.81 L675.14 201.7 L676.5 200.62" stroke="#FF0000" stroke-width="1.65" fill="none" stroke-linejoin="round" stroke-linecap="round" clip-path="url(#c5)"/>
<path d="M501.9 225H505.3M501.9 258.95H505.3M501.9 292.9H505.3M513.4 300.6V304M567.77 300.6V304M622.13 300.6V304M676.5 300.6V304" stroke="#333333" stroke-width="1.4" fill="none"/>
<g font-size="10.8" fill="#4D4D4D" color="#4D4D4D"><text x="499" y="228.72" text-anchor="end">8.4</text><text x="499" y="262.67" text-anchor="end">8.2</text><text x="499" y="296.62" text-anchor="end">8.0</text><text x="513.4" y="314.5" text-anchor="middle">20</text><text x="567.77" y="314.5" text-anchor="middle">40</text><text x="622.13" y="314.5" text-anchor="middle">60</text><text x="676.5" y="314.5" text-anchor="middle">80</text></g>
<text x="594.75" y="329.7" text-anchor="middle" font-size="13.2">age (yrs)</text>
<text transform="translate(474.6 248.7) rotate(-90)" text-anchor="middle" font-size="13.2">Log P (CFU)</text>
<text x="594.95" y="186.4" text-anchor="middle" font-size="15.8">f</text>
</svg>
</body></html>
